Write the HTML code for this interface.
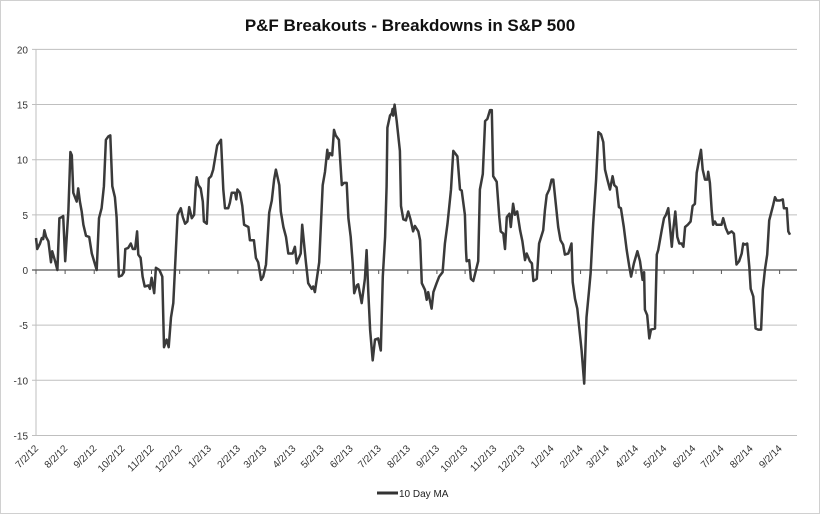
<!DOCTYPE html>
<html><head><meta charset="utf-8"><style>
html,body{margin:0;padding:0;background:#fff}
svg{display:block;font-family:"Liberation Sans",Arial,sans-serif}
</style></head><body>
<svg id="chart" width="820" height="514" viewBox="0 0 820 514">
<rect x="0.5" y="0.5" width="819" height="513" fill="#fff" stroke="#d0d0d0"/>
<text x="410" y="31" text-anchor="middle" font-size="17" font-weight="bold" fill="#111">P&amp;F Breakouts - Breakdowns in S&amp;P 500</text>
<g id="grid"></g><g id="yaxis"></g><g id="xaxis"></g><g id="series"></g>
<g>
<line x1="377" y1="493" x2="398" y2="493" stroke="#333" stroke-width="3"/>
<text x="399" y="497" font-size="10" fill="#222">10 Day MA</text>
</g>
</svg>
<script>
const yTicks=[20,15,10,5,0,-5,-10,-15];
const xTickLabels=["7/2/12","8/2/12","9/2/12","10/2/12","11/2/12","12/2/12","1/2/13","2/2/13","3/2/13","4/2/13","5/2/13","6/2/13","7/2/13","8/2/13","9/2/13","10/2/13","11/2/13","12/2/13","1/2/14","2/2/14","3/2/14","4/2/14","5/2/14","6/2/14","7/2/14","8/2/14","9/2/14"];
// months since 7/2/12 (fractional)
const months=[0,0.04,0.14,0.20,0.25,0.29,0.35,0.43,0.48,0.52,0.56,0.66,0.74,0.81,0.89,0.94,1.01,1.12,1.19,1.24,1.29,1.41,1.46,1.52,1.58,1.64,1.73,1.84,1.93,2.10,2.18,2.27,2.35,2.42,2.50,2.57,2.64,2.73,2.79,2.87,2.97,3.04,3.09,3.19,3.28,3.35,3.43,3.50,3.54,3.62,3.69,3.76,3.89,3.94,4.00,4.09,4.15,4.27,4.37,4.43,4.52,4.59,4.67,4.75,4.90,5.01,5.08,5.16,5.24,5.30,5.39,5.47,5.53,5.56,5.62,5.70,5.77,5.81,5.91,5.98,6.06,6.13,6.27,6.40,6.48,6.54,6.65,6.71,6.77,6.89,6.93,6.97,7.06,7.14,7.20,7.35,7.40,7.54,7.61,7.69,7.79,7.86,7.96,8.07,8.16,8.24,8.30,8.42,8.47,8.56,8.65,8.73,8.88,8.96,9.02,9.16,9.21,9.34,9.42,9.54,9.59,9.65,9.80,9.92,10.00,10.08,10.11,10.17,10.25,10.31,10.37,10.48,10.58,10.66,10.75,10.81,10.89,10.96,11.01,11.10,11.15,11.27,11.38,11.44,11.50,11.56,11.65,11.73,11.84,11.93,12.00,12.08,12.13,12.16,12.25,12.31,12.34,12.36,12.41,12.48,12.59,12.63,12.71,12.80,12.88,12.96,13.05,13.11,13.23,13.29,13.35,13.46,13.52,13.57,13.69,13.75,13.86,13.95,14.07,14.15,14.24,14.36,14.44,14.50,14.58,14.67,14.73,14.84,14.88,14.90,14.99,15.05,15.13,15.30,15.36,15.46,15.54,15.62,15.71,15.77,15.82,15.94,16.03,16.08,16.17,16.23,16.29,16.38,16.43,16.51,16.57,16.65,16.75,16.83,16.92,16.98,17.09,17.16,17.21,17.33,17.41,17.55,17.61,17.67,17.76,17.84,17.90,17.99,18.07,18.15,18.24,18.30,18.42,18.53,18.57,18.65,18.73,18.88,18.97,19.05,19.14,19.19,19.28,19.38,19.46,19.55,19.63,19.69,19.77,19.86,19.95,20.01,20.09,20.17,20.24,20.34,20.44,20.53,20.59,20.69,20.81,20.90,20.99,21.04,21.07,21.15,21.22,21.28,21.42,21.48,21.53,21.65,21.73,21.80,21.88,22.00,22.05,22.12,22.19,22.26,22.34,22.40,22.46,22.55,22.65,22.72,22.80,22.86,22.95,23.01,23.07,23.15,23.23,23.26,23.32,23.38,23.43,23.49,23.55,23.72,23.78,23.87,23.95,24.07,24.15,24.24,24.33,24.42,24.47,24.53,24.61,24.68,24.73,24.82,24.90,24.99,25.09,25.15,25.22,25.30,25.37,25.51,25.57,25.63,25.74,25.84,25.88,25.98,26.03,26.09];
const values=[2.9,1.9,2.4,2.9,2.8,3.6,3.0,2.6,1.5,0.7,1.7,0.8,0,4.7,4.8,4.9,0.8,5.4,10.7,10.4,7.0,6.2,7.4,6.2,5.3,4.1,3.1,3.0,1.5,0,4.7,5.6,7.6,11.8,12.1,12.2,7.6,6.6,4.8,-0.6,-0.5,-0.2,1.9,2.0,2.4,1.9,1.9,3.5,1.4,1.1,-0.6,-1.5,-1.4,-1.7,-0.7,-2.1,0.2,0,-0.6,-7.0,-6.3,-7.0,-4.3,-3.0,5.0,5.6,4.8,4.2,4.4,5.7,4.7,5.0,7.7,8.4,7.7,7.4,6.2,4.4,4.2,8.3,8.5,9.1,11.3,11.8,7.3,5.6,5.6,6.1,7.0,7.0,6.4,7.3,7.0,5.8,4.1,3.9,2.7,2.7,1.1,0.7,-0.9,-0.6,0.5,5.2,6.3,8.2,9.1,7.7,5.3,3.9,3.0,1.5,1.5,2.1,0.6,1.5,4.1,0.7,-1.2,-1.7,-1.5,-2.0,0.7,7.7,8.9,10.9,10.1,10.6,10.4,12.7,12.2,11.8,7.7,7.9,7.9,4.7,3.0,0.6,-2.1,-1.4,-1.3,-3.0,-0.8,1.8,-2.0,-5.4,-8.2,-6.3,-6.2,-7.3,-0.6,3.0,7.6,12.9,14.0,14.2,14.6,14.0,15.0,13.5,10.8,5.8,4.6,4.5,5.3,4.6,3.5,4.0,3.5,2.7,-1.2,-1.8,-2.7,-2.0,-3.5,-2.0,-1.2,-0.6,-0.2,2.4,4.2,7.3,10.8,10.6,10.3,7.3,7.2,5.0,1.8,0.8,0.9,-0.8,-1.0,0.8,7.3,8.7,13.5,13.7,14.5,14.5,8.5,8.0,4.8,3.5,3.3,1.9,4.8,5.1,3.9,6.0,5.0,5.3,3.6,2.6,0.9,1.5,0.8,0.6,-1.0,-0.8,2.4,3.6,5.4,6.8,7.3,8.2,8.2,5.9,3.9,2.7,2.3,1.4,1.5,2.4,-1.1,-2.6,-3.5,-7.3,-10.3,-4.3,-1.8,-0.3,4.2,8.2,12.5,12.3,11.6,9.1,8.2,7.3,8.5,7.7,7.5,5.7,5.6,3.9,1.8,0.3,-0.6,0.6,1.7,0.8,-0.9,-0.2,-3.6,-4.1,-6.2,-5.4,-5.3,1.4,1.8,3.6,4.7,5.0,5.6,2.1,3.6,5.3,3.0,2.4,2.4,2.1,3.9,4.1,4.4,5.8,6.0,8.8,10.1,10.9,9.1,8.2,8.2,8.9,7.9,5.4,4.1,4.4,4.1,4.1,4.7,3.8,3.3,3.5,3.3,0.5,0.8,1.5,2.4,2.3,2.4,0.3,-1.7,-2.4,-5.3,-5.4,-5.4,-1.8,0,1.4,4.5,5.9,6.6,6.3,6.3,6.4,5.6,5.6,3.5,3.2];

const NS="http://www.w3.org/2000/svg";
const X0=36,X1=797,PXM=28.9,DAYS_PER_MONTH=30.78;
function xScale(m){return X0+m*PXM;}
function yScale(v){return 270-v*11.03;}
function mk(tag,attrs,parent){const e=document.createElementNS(NS,tag);for(const k in attrs)e.setAttribute(k,attrs[k]);parent.appendChild(e);return e;}
const grid=document.getElementById('grid'),ya=document.getElementById('yaxis'),xa=document.getElementById('xaxis'),ser=document.getElementById('series');
yTicks.forEach(v=>{
  const y=yScale(v);
  if(v!==0){const g=mk('line',{x1:X0-4,x2:X1,y1:y,y2:y,stroke:'#bfbfbf','stroke-width':1},grid);
  
  }
  const t=mk('text',{x:28,y:y+4,'text-anchor':'end','font-size':10,fill:'#333'},ya);
  t.textContent=v;
  
  
});
const ax=mk('line',{x1:X0,x2:X0,y1:yScale(20),y2:yScale(-15),stroke:'#bfbfbf','stroke-width':1},ya);


const zl=mk('line',{x1:X0-4,x2:X1,y1:yScale(0),y2:yScale(0),stroke:'#555','stroke-width':1.2},xa);


xTickLabels.forEach(lbl=>{
  const p=lbl.split('/');const yr=2000+(+p[2]);
  const d=(Date.UTC(yr,+p[0]-1,+p[1])-Date.UTC(2012,6,2))/86400000;
  const x=xScale(d/DAYS_PER_MONTH);
  const tk=mk('line',{x1:x,x2:x,y1:yScale(0),y2:yScale(0)+4,stroke:'#555'},xa);
  
  
  const t=mk('text',{x:x+3,y:449,'text-anchor':'end','font-size':10,fill:'#333',transform:'rotate(-45 '+(x+3)+' 449)'},xa);
  t.textContent=lbl;
  
  
});
const pts=months.map((m,i)=>xScale(m).toFixed(1)+','+yScale(values[i]).toFixed(1)).join(' ');
const pl=mk('polyline',{points:pts,fill:'none',stroke:'#3a3a3a','stroke-width':2.5,'stroke-linejoin':'round'},ser);


</script>
</body></html>
